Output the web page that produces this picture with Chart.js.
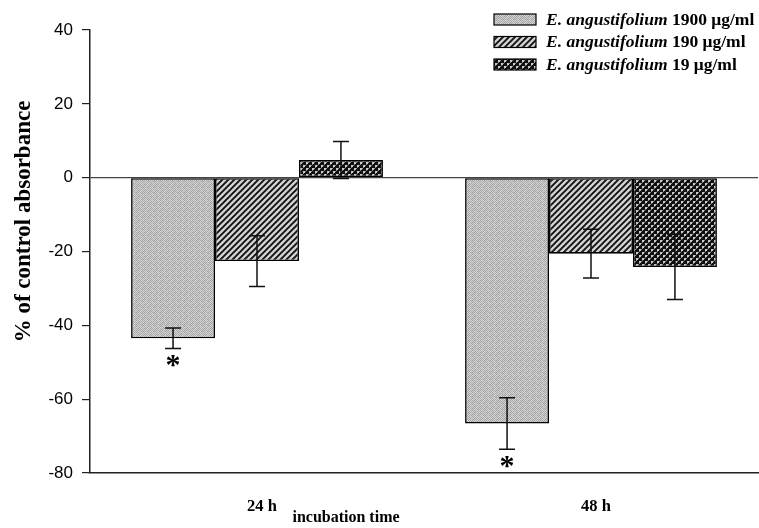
<!DOCTYPE html>
<html>
<head>
<meta charset="utf-8">
<script src="https://cdn.jsdelivr.net/npm/chart.js@4"></script>
<style>
  body { margin: 0; background: #fff; }
</style>
</head>
<body>
<canvas id="myChart" width="759" height="528"></canvas>
<script>
// data
const categories = ['24 h', '48 h'];
const species = 'E. angustifolium';
const doses = ['1900 μg/ml', '190 μg/ml', '19 μg/ml'];
const values1900 = [-43.5, -66.6];
const values190 = [-22.6, -20.6];
const values19 = [4.8, -24.2];
const errors1900 = [2.8, 7.0];
const errors190 = [6.9, 6.6];
const errors19 = [5.0, 8.8];
const significant1900 = [true, true];
const significant190 = [false, false];
const significant19 = [false, false];
const yMin = -80, yMax = 40, yStep = 20;

const serif = '"Liberation Serif", "Times New Roman", serif';

function makePattern(kind) {
    const c = document.createElement('canvas');
    const g = c.getContext('2d');
    if (kind === 'dots') {
        // grey stipple, slightly mottled
        const tile = [
            '#a0a0a0', '#d6d6d6', '#a8a8a8', '#cfcfcf', '#9a9a9a', '#d8d8d8',
            '#d2d2d2', '#b0b0b0', '#d8d8d8', '#9c9c9c', '#cdcdcd', '#a4a4a4',
            '#a6a6a6', '#d4d4d4', '#bcbcbc', '#d6d6d6', '#a2a2a2', '#d0d0d0',
            '#d8d8d8', '#9e9e9e', '#d2d2d2', '#a8a8a8', '#d6d6d6', '#b4b4b4',
            '#9c9c9c', '#cccccc', '#a4a4a4', '#d8d8d8', '#aaaaaa', '#d4d4d4',
            '#d0d0d0', '#a6a6a6', '#d6d6d6', '#b2b2b2', '#d2d2d2', '#9e9e9e'
        ];
        c.width = c.height = 6;
        tile.forEach((col, k) => {
            g.fillStyle = col;
            g.fillRect(k % 6, Math.floor(k / 6), 1, 1);
        });
    } else if (kind === 'diag') {
        c.width = c.height = 6;
        g.fillStyle = '#d2d2d2';
        g.fillRect(0, 0, 6, 6);
        g.strokeStyle = '#111';
        g.lineWidth = 1.9;
        g.beginPath();
        g.moveTo(-1, 7); g.lineTo(7, -1);
        g.moveTo(-1, 1); g.lineTo(1, -1);
        g.moveTo(5, 7); g.lineTo(7, 5);
        g.stroke();
    } else {
        // dark cross-hatch with light dots
        c.width = c.height = 6;
        g.fillStyle = '#111';
        g.fillRect(0, 0, 6, 6);
        g.fillStyle = '#c8c8c8';
        g.fillRect(0, 0, 2, 2);
        g.fillRect(3, 3, 2, 2);
        g.fillStyle = '#8a8a8a';
        g.fillRect(2, 0, 1, 1);
        g.fillRect(5, 3, 1, 1);
        g.fillRect(0, 2, 1, 1);
        g.fillRect(3, 5, 1, 1);
    }
    return g.createPattern(c, 'repeat');
}

// error bars + asterisks
const errorBars = {
    id: 'errorBars',
    afterDatasetsDraw(chart) {
        const ctx = chart.ctx;
        const y = chart.scales.y;
        chart.data.datasets.forEach((ds, i) => {
            chart.getDatasetMeta(i).data.forEach((bar, j) => {
                const v = ds.data[j], e = ds.errors[j];
                const top = y.getPixelForValue(v + e);
                const bot = y.getPixelForValue(v - e);
                ctx.save();
                ctx.strokeStyle = '#111';
                ctx.lineWidth = 1.5;
                ctx.beginPath();
                ctx.moveTo(bar.x, top); ctx.lineTo(bar.x, bot);
                ctx.moveTo(bar.x - 8, top); ctx.lineTo(bar.x + 8, top);
                ctx.moveTo(bar.x - 8, bot); ctx.lineTo(bar.x + 8, bot);
                ctx.stroke();
                if (ds.significant[j]) {
                    ctx.fillStyle = '#000';
                    ctx.font = 'bold 30px ' + serif;
                    ctx.textAlign = 'center';
                    ctx.textBaseline = 'top';
                    ctx.fillText('*', bar.x, bot + 3);
                }
                ctx.restore();
            });
        });
    }
};

// legend with italic species name and axis titles
const decorations = {
    id: 'decorations',
    afterDraw(chart) {
        const ctx = chart.ctx;
        const area = chart.chartArea;
        ctx.save();
        ctx.textBaseline = 'middle';
        chart.data.datasets.forEach((ds, i) => {
            const bx = area.right - 264;
            const by = area.top - 11 + i * 22.5;
            ctx.fillStyle = ds.backgroundColor;
            ctx.fillRect(bx, by - 5, 42, 11);
            ctx.strokeStyle = '#000';
            ctx.lineWidth = 1.2;
            ctx.strokeRect(bx, by - 5, 42, 11);
            ctx.fillStyle = '#000';
            ctx.textAlign = 'left';
            ctx.font = 'italic bold 17.5px ' + serif;
            const sp = species + ' ';
            ctx.fillText(sp, bx + 52, by + 1);
            const w = ctx.measureText(sp).width;
            ctx.font = 'bold 17.5px ' + serif;
            ctx.fillText(doses[i], bx + 52 + w, by + 1);
        });
        ctx.fillStyle = '#000';
        // y title
        ctx.font = 'bold 23px ' + serif;
        ctx.textAlign = 'center';
        ctx.save();
        ctx.translate(24, (area.top + area.bottom) / 2 - 30);
        ctx.rotate(-Math.PI / 2);
        ctx.fillText('% of control absorbance', 0, 0);
        ctx.restore();
        // x title
        ctx.font = 'bold 16px ' + serif;
        ctx.fillText('incubation time', area.left + 256, 518);
        ctx.restore();
    }
};

const data = {
    labels: categories,
    datasets: [
        { label: species + ' ' + doses[0], data: values1900, errors: errors1900, significant: significant1900, backgroundColor: makePattern('dots') },
        { label: species + ' ' + doses[1], data: values190, errors: errors190, significant: significant190, backgroundColor: makePattern('diag') },
        { label: species + ' ' + doses[2], data: values19, errors: errors19, significant: significant19, backgroundColor: makePattern('cross') }
    ]
};
data.datasets.forEach(ds => {
    ds.borderColor = '#000';
    ds.borderWidth = 1.6;
    ds.borderSkipped = false;
    ds.categoryPercentage = 0.754;
    ds.barPercentage = 1.0;
});

const config = {
    type: 'bar',
    data,
    options: {
        responsive: false,
        animation: false,
        devicePixelRatio: 1,
        layout: { padding: { top: 30, right: 1, left: 0, bottom: 0 } },
        plugins: {
            legend: { display: false },
            tooltip: { enabled: false }
        },
        scales: {
            x: {
                grid: { display: false },
                border: { display: true, color: '#222', width: 1.5 },
                ticks: { color: '#000', padding: 16, labelOffset: 5, font: { family: serif, size: 16.5, weight: 'bold' } },
                afterFit(scale) { scale.height = 55; }
            },
            y: {
                min: yMin,
                max: yMax,
                ticks: { stepSize: yStep, color: '#000', padding: 9, font: { family: '"Liberation Sans", Arial, sans-serif', size: 17 } },
                grid: {
                    color: c => c.tick && c.tick.value === 0 ? '#444' : 'rgba(0,0,0,0)',
                    lineWidth: 1.2,
                    tickColor: '#222',
                    tickLength: 8
                },
                border: { display: true, color: '#222', width: 1.5 },
                afterFit(scale) { scale.width = 90; }
            }
        }
    },
    plugins: [errorBars, decorations]
};

const myChart = new Chart(document.getElementById('myChart'), config);
</script>
</body>
</html>
